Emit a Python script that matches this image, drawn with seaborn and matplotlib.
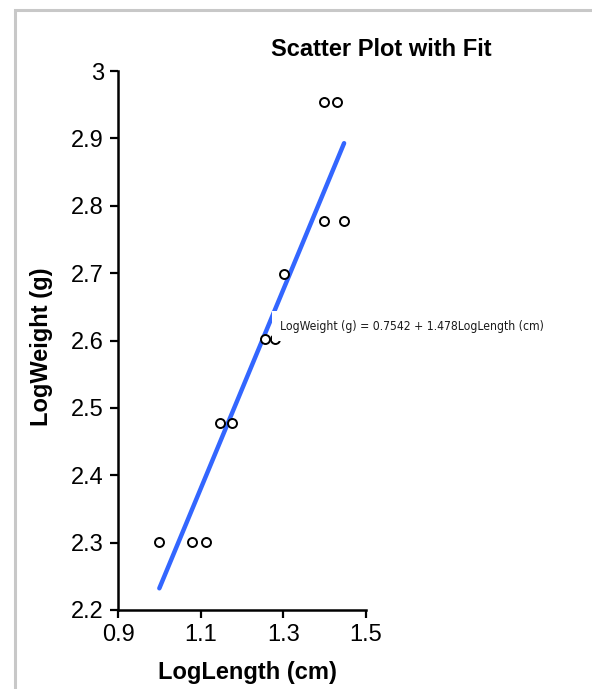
import numpy as np
import pandas as pd
import matplotlib
matplotlib.use('Agg')
import matplotlib.pyplot as plt
import seaborn as sns
from matplotlib.patches import Rectangle

# observed values (log10 of length in cm and weight in g)
log_length = [1.000, 1.079, 1.114, 1.146, 1.176, 1.255, 1.279, 1.301, 1.398, 1.447, 1.398, 1.431]
log_weight = [2.301, 2.301, 2.301, 2.477, 2.477, 2.602, 2.602, 2.699, 2.778, 2.778, 2.954, 2.954]

# fitted line coefficients
intercept = 0.7542
slope = 1.478
fit_label = "LogWeight (g) = 0.7542 + 1.478LogLength (cm)"

x_ticks = [0.9, 1.1, 1.3, 1.5]
y_ticks = [2.2, 2.3, 2.4, 2.5, 2.6, 2.7, 2.8, 2.9, 3.0]
y_tick_labels = ["2.2", "2.3", "2.4", "2.5", "2.6", "2.7", "2.8", "2.9", "3"]

df = pd.DataFrame({"LogLength": log_length, "LogWeight": log_weight})
fit_x = np.array([min(log_length), max(log_length)])
fit_df = pd.DataFrame({"LogLength": fit_x, "LogWeight": intercept + slope * fit_x})

sns.set_style("white")
plt.rcParams['font.family'] = ['Liberation Sans', 'DejaVu Sans']
plt.rcParams['text.color'] = 'black'

W, H = 592, 689
fig = plt.figure(figsize=(W / 100, H / 100), dpi=100)
ax = fig.add_axes([118 / W, 1 - 610 / H, (366 - 118) / W, (610 - 71) / H])

# frame around the figure
fig.patches.append(Rectangle((15 / W, -0.1), 1.2, 1 - 10 / H + 0.1, transform=fig.transFigure,
                             fill=False, edgecolor='#c8c8c8', linewidth=2.2, zorder=0))

sns.lineplot(data=fit_df, x="LogLength", y="LogWeight", ax=ax, color='#3366ff',
             linewidth=3.2, solid_capstyle='round', zorder=2)
sns.scatterplot(data=df, x="LogLength", y="LogWeight", ax=ax, marker='o', s=42,
                facecolor='white', edgecolor='black', linewidth=1.4, zorder=3)

ax.set_xlim(0.9, 1.5)
ax.set_ylim(2.2, 3.0)
ax.set_xticks(x_ticks)
ax.set_xticklabels([str(t) for t in x_ticks])
ax.set_yticks(y_ticks)
ax.set_yticklabels(y_tick_labels)
ax.tick_params(axis='both', direction='out', length=6, width=1.6, labelsize=17,
               color='black', labelcolor='black', pad=4, left=True, bottom=True)
for side in ['top', 'right']:
    ax.spines[side].set_visible(False)
for side in ['left', 'bottom']:
    ax.spines[side].set_color('black')
    ax.spines[side].set_linewidth(1.8)
ax.set_xlabel("")
ax.set_ylabel("")
ax.patch.set_alpha(0)

fig.text(247 / W, 1 - 673 / H, "LogLength (cm)", ha='center', va='center',
         fontsize=17, fontweight='bold', color='black')
fig.text(42 / W, 1 - 347 / H, "LogWeight (g)", ha='center', va='center',
         rotation=90, fontsize=17, fontweight='bold', color='black')
fig.text(381 / W, 1 - 50 / H, "Scatter Plot with Fit", ha='center', va='center',
         fontsize=17, fontweight='bold', color='black')

ax.annotate(fit_label, xy=(1.292, 2.6215), xycoords='data', ha='left', va='center',
            fontsize=8.7, family='DejaVu Sans', fontstretch='condensed',
            color='#1a1a1a',
            bbox=dict(boxstyle='square,pad=0.7', facecolor='white', edgecolor='none'),
            zorder=4, annotation_clip=False)

fig.savefig("out.png", dpi=100, facecolor='white')
